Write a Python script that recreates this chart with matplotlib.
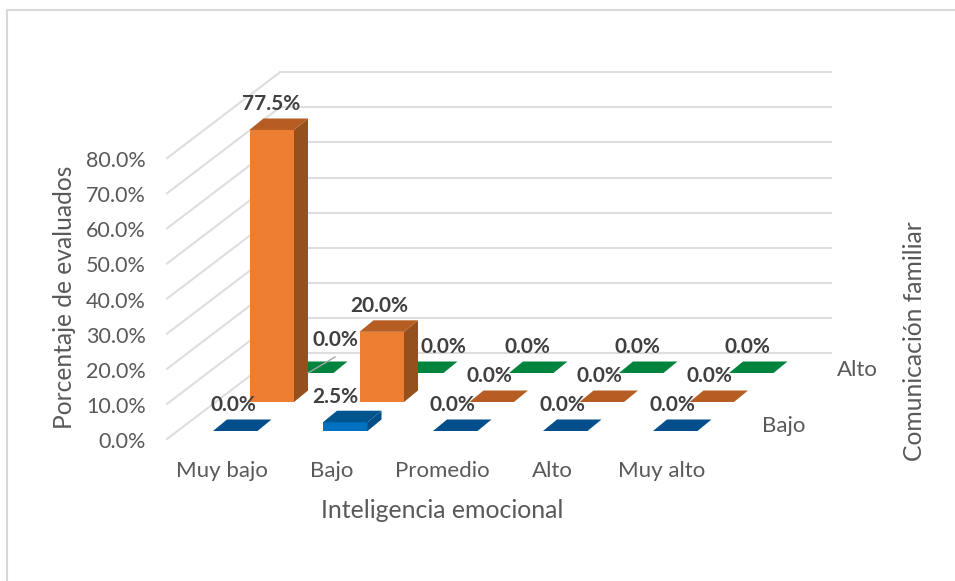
import matplotlib
matplotlib.use("Agg")
import matplotlib.pyplot as plt
from matplotlib.patches import Polygon

plt.rcParams['font.family'] = ['Lato', 'DejaVu Sans']

categories = ["Muy bajo", "Bajo", "Promedio", "Alto", "Muy alto"]
series_names = ["Bajo", "Medio", "Alto"]
bajo = [0.0, 2.5, 0.0, 0.0, 0.0]
medio = [77.5, 20.0, 0.0, 0.0, 0.0]
alto = [0.0, 0.0, 0.0, 0.0, 0.0]
tick_values = [0, 10, 20, 30, 40, 50, 60, 70, 80]

W, H = 955, 581
CAT_PX, VAL_PX = 110.0, 3.51
X0, Y0 = 213.0, 431.0
fig = plt.figure(figsize=(W / 100, H / 100), dpi=100, facecolor='white')
ax = fig.add_axes([0, 0, 1, 1])
ax.set_xlim(-X0 / CAT_PX, (W - X0) / CAT_PX)
ax.set_ylim((Y0 - H) / VAL_PX, Y0 / VAL_PX)
ax.axis('off')


def ox(px):
    return px / CAT_PX


def oy(px):
    return px / VAL_PX


GRID = '#dedede'
TXT = '#595959'
LBL = '#404040'

# chart frame: only the top and left edges are visible in the crop
ax.plot([ox(7 - X0), ox(7 - X0), ox(W - X0)], [oy(Y0 - H), oy(Y0 - 10), oy(Y0 - 10)],
        color='#d9d9d9', lw=1.5, zorder=0)

# walls
for v in tick_values:
    ax.plot([ox(167 - X0), ox(280 - X0)], [v + oy(-8), v + oy(78)], color=GRID, lw=1.5, zorder=1)
    ax.plot([ox(280 - X0), ox(831 - X0)], [v + oy(78), v + oy(78)], color=GRID, lw=1.5, zorder=1)

BAR_W, DEPTH_X, DEPTH_Y = ox(44.5), ox(14), oy(11.5)
ROW_XS, ROW_Y = [ox(0), ox(36.5), ox(76)], oy(29)
styles = {
    0: ('#0070C0', '#00558F', '#004F86', '#004F8C'),
    1: ('#ED7D31', '#B55D22', '#96501D', '#B55D22'),
    2: ('#00843D', '#00843D', '#00843D', '#00843D'),
}


def draw_bar(cat, row, value, z):
    front, top, side, flat = styles[row]
    x = cat + ROW_XS[row]
    base = row * ROW_Y
    t = base + value
    if value > 0:
        ax.add_patch(Polygon([(x, base), (x + BAR_W, base), (x + BAR_W, t), (x, t)],
                             fc=front, ec='none', zorder=z))
        ax.add_patch(Polygon([(x + BAR_W, base), (x + BAR_W + DEPTH_X, base + DEPTH_Y),
                              (x + BAR_W + DEPTH_X, t + DEPTH_Y), (x + BAR_W, t)],
                             fc=side, ec='none', zorder=z))
    ax.add_patch(Polygon([(x, t), (x + BAR_W, t), (x + BAR_W + DEPTH_X, t + DEPTH_Y),
                          (x + DEPTH_X, t + DEPTH_Y)], fc=top if value > 0 else flat,
                         ec='none', zorder=z))


rows = [bajo, medio, alto]
for r in (2, 1, 0):
    for c, val in enumerate(rows[r]):
        draw_bar(c, r, val, 3 + (2 - r))

# leader line for the first green label
ax.plot([ox(308 - X0), ox(335 - X0)], [oy(Y0 - 373), oy(Y0 - 357)], color='#a6a6a6', lw=1, zorder=8)

# data labels: nudges in pixels from each bar's top-left corner
nudges = {
    0: [(20, 26), (12, 25), (19, 26), (19, 26), (19, 26)],
    1: [(22, 26), (20, 26), (20, 26), (20, 26), (20, 26)],
    2: [(46, 33), (44, 26), (18, 26), (18, 26), (18, 26)],
}
for r in (2, 1, 0):
    for c, val in enumerate(rows[r]):
        nx, ny = nudges[r][c]
        ax.text(c + ROW_XS[r] + ox(nx), r * ROW_Y + val + oy(ny), f"{val:.1f}%",
                ha='center', va='center', fontsize=15, fontweight='bold', color=LBL, zorder=10)

# value axis tick labels
for v in tick_values:
    ax.text(ox(146 - X0), v + oy(-11), f"{v:.1f}%", ha='right', va='center',
            fontsize=15.5, color=TXT, zorder=10)

# category labels
for c, name in enumerate(categories):
    ax.text(c + ox(9), oy(Y0 - 471), name, ha='center', va='center', fontsize=16, color=TXT, zorder=10)

# depth axis labels
ax.text(ox(784 - X0), oy(Y0 - 426), "Bajo", ha='center', va='center', fontsize=16, color=TXT)
ax.text(ox(857 - X0), oy(Y0 - 370), "Alto", ha='center', va='center', fontsize=16, color=TXT)

# axis titles
ax.text(ox(442 - X0), oy(Y0 - 510), "Inteligencia emocional", ha='center', va='center', fontsize=17.9, color=TXT)
ax.text(ox(64 - X0), oy(Y0 - 297), "Porcentaje de evaluados", ha='center', va='center',
        rotation=90, fontsize=17.7, color=TXT)
ax.text(ox(914 - X0), oy(Y0 - 341), "Comunicación familiar", ha='center', va='center',
        rotation=90, fontsize=17.7, color=TXT)

fig.savefig('out.png', dpi=100, facecolor='white')
